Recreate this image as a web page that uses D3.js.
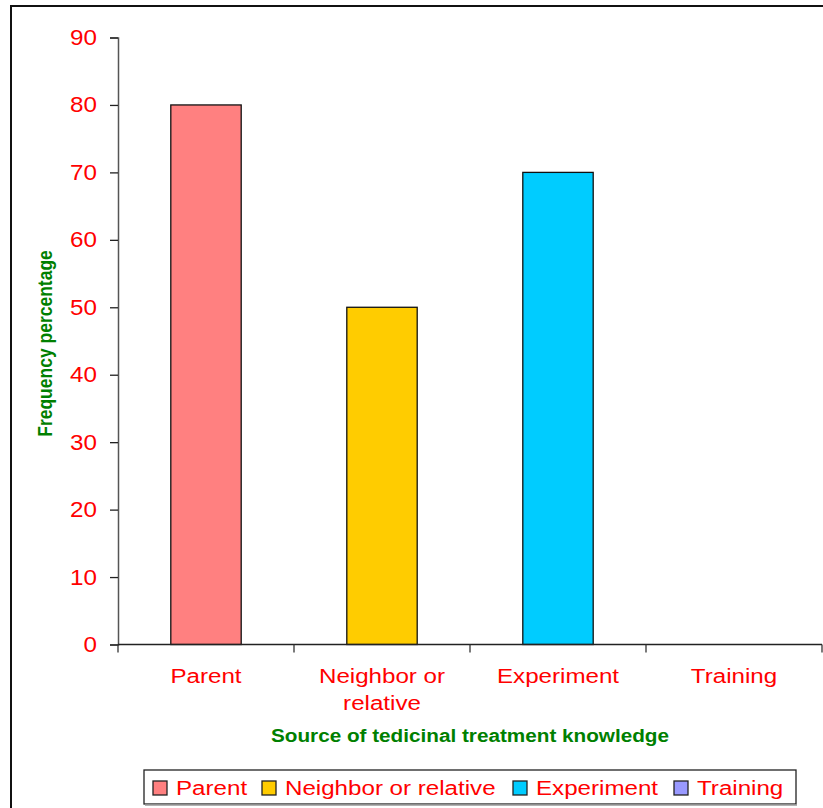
<!DOCTYPE html>
<html>
<head>
<meta charset="utf-8">
<script src="https://cdn.jsdelivr.net/npm/d3@7"></script>
<style>
  body { margin: 0; background: #fff; }
  text { font-family: "Liberation Sans", Arial, sans-serif; }
</style>
</head>
<body>
<svg class="mysvg"></svg>
<script>
// chart data
let categories = ["Parent", "Neighbor or relative", "Experiment", "Training"];
let values = [80, 50, 70, 0];
let barColors = ["#FF8080", "#FFCC00", "#00CCFF", "#9999FF"];
let yTicks = [0, 10, 20, 30, 40, 50, 60, 70, 80, 90];
// axis labels are wrapped like the original
let xLabelLines = [["Parent"], ["Neighbor or", "relative"], ["Experiment"], ["Training"]];

let svgWidth = 823, svgHeight = 808;
// "top" clashes with window.top, so plot edges get their own names
let plotLeft = 118, plotRight = 822, plotTop = 37.5, plotBottom = 644.5;
// the original picture is a bit stretched sideways, text too
let stretch = 1.15;

let svg = d3.select(".mysvg")
    .attr("width", svgWidth)
    .attr("height", svgHeight);

// outer frame (cut off at right / bottom)
svg.append("rect")
    .attr("x", 11).attr("y", 6)
    .attr("width", 900).attr("height", 900)
    .attr("fill", "none")
    .attr("stroke", "#111")
    .attr("stroke-width", 2);

let xScale = d3.scaleBand()
    .domain(categories)
    .range([plotLeft, plotRight])
    .paddingInner(0.6)
    .paddingOuter(0.3);

let yScale = d3.scaleLinear()
    .domain([0, 90])
    .range([plotBottom, plotTop]);

// bars
svg.selectAll("rect.bar")
    .data(values)
    .enter()
    .append("rect")
    .attr("class", "bar")
    .attr("x", (d, i) => xScale(categories[i]))
    .attr("y", d => yScale(d))
    .attr("width", xScale.bandwidth())
    .attr("height", d => yScale(0) - yScale(d))
    .attr("fill", (d, i) => barColors[i])
    .attr("stroke", "#111")
    .attr("stroke-width", 1.3)
    .style("display", d => d > 0 ? null : "none");

// y axis
let y_axis = d3.axisLeft(yScale)
    .tickValues(yTicks)
    .tickSize(8)
    .tickPadding(13);

let gy = svg.append("g")
    .attr("transform", "translate(" + plotLeft + ",0)")
    .call(y_axis);
gy.select(".domain").attr("stroke", "#555").attr("stroke-width", 1.5);
gy.selectAll(".tick line").attr("stroke", "#222").attr("stroke-width", 1.3);
gy.selectAll(".tick text")
    .attr("fill", "#FF0000")
    .attr("x", -21 / 1.1)
    .attr("transform", "scale(1.1,1)")
    .style("font-size", "22px")
    .style("font-family", "'Liberation Sans', Arial, sans-serif");

// x axis with ticks between categories
let xEdges = d3.range(categories.length + 1).map(i => plotLeft + i * xScale.step());
let gx = svg.append("g");
gx.append("line")
    .attr("x1", plotLeft).attr("x2", plotRight)
    .attr("y1", plotBottom).attr("y2", plotBottom)
    .attr("stroke", "#222").attr("stroke-width", 1.5);
gx.selectAll("line.tk")
    .data(xEdges)
    .enter()
    .append("line")
    .attr("class", "tk")
    .attr("x1", d => d).attr("x2", d => d)
    .attr("y1", plotBottom).attr("y2", plotBottom + 8)
    .attr("stroke", "#333").attr("stroke-width", 1.3);

let xl = gx.selectAll("text.xl")
    .data(categories)
    .enter()
    .append("text")
    .attr("class", "xl")
    .attr("transform", d => "translate(" + (xScale(d) + xScale.bandwidth() / 2) + ",683) scale(" + stretch + ",1)")
    .attr("text-anchor", "middle")
    .attr("fill", "#FF0000")
    .style("font-size", "21px");
xl.each(function(d, i) {
    d3.select(this).selectAll("tspan")
        .data(xLabelLines[i])
        .enter()
        .append("tspan")
        .attr("x", 0)
        .attr("dy", (t, j) => j === 0 ? 0 : 27)
        .text(t => t);
});

// axis titles
svg.append("text")
    .attr("transform", "translate(470,742) scale(1.12,1)")
    .attr("text-anchor", "middle")
    .attr("fill", "#008000")
    .style("font-size", "18.5px")
    .style("font-weight", "bold")
    .text("Source of tedicinal treatment knowledge");

svg.append("text")
    .attr("transform", "translate(52,343.5) scale(1.12,1) rotate(-90)")
    .attr("text-anchor", "middle")
    .attr("fill", "#008000")
    .style("font-size", "17.5px")
    .style("font-weight", "bold")
    .text("Frequency percentage");

// legend
let legend = svg.append("g");
legend.append("rect")
    .attr("x", 144).attr("y", 770)
    .attr("width", 652).attr("height", 34)
    .attr("fill", "#fff")
    .attr("stroke", "#222")
    .attr("stroke-width", 1.3);
legend.append("line")
    .attr("x1", 145).attr("x2", 797)
    .attr("y1", 805).attr("y2", 805)
    .attr("stroke", "#999").attr("stroke-width", 1.5);

let legendX = [153, 262, 513, 674];
let items = legend.selectAll("g.item")
    .data(categories)
    .enter()
    .append("g")
    .attr("class", "item")
    .attr("transform", (d, i) => "translate(" + legendX[i] + ",0)");
items.append("rect")
    .attr("x", 0).attr("y", 781)
    .attr("width", 14).attr("height", 14)
    .attr("fill", (d, i) => barColors[i])
    .attr("stroke", "#222")
    .attr("stroke-width", 1.3);
items.append("text")
    .attr("transform", "translate(23,795) scale(" + stretch + ",1)")
    .attr("fill", "#FF0000")
    .style("font-size", "21px")
    .text(d => d);
</script>
</body>
</html>
